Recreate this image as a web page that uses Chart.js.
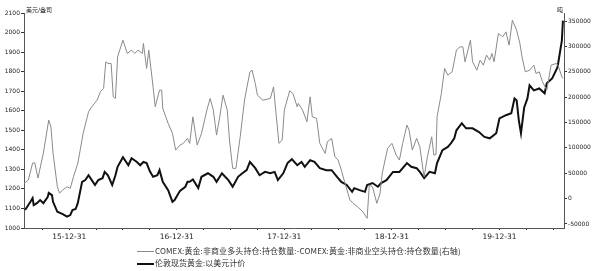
<!DOCTYPE html>
<html>
<head>
<meta charset="utf-8">
<script src="https://cdn.jsdelivr.net/npm/chart.js@4/dist/chart.umd.min.js"></script>
<style>
  html, body { margin: 0; padding: 0; background: #fff; }
  #wrap { position: relative; width: 600px; height: 271px; }
  canvas { position: absolute; left: 0; top: 0; }
  .unit { position: absolute; font-family: "DejaVu Sans", "Noto Sans CJK SC", sans-serif; font-size: 6px; color: #222; }
  .legend { position: absolute; left: 137px; font-family: "Noto Sans CJK SC", sans-serif; font-size: 8px; color: #333; white-space: nowrap; }
  .legend .swatch { display: inline-block; width: 17px; vertical-align: middle; margin-right: 1px; }
</style>
</head>
<body>
<div id="wrap">
  <canvas id="chart" width="600" height="271"></canvas>
  <div class="unit" style="left:26px; top:5px;">美元/盎司</div>
  <div class="unit" style="left:557px; top:5px;">吨</div>
  <div class="legend" style="top:245px; letter-spacing:0.1px;"><span class="swatch" style="border-top:1px solid #8a8a8a;"></span>COMEX:黄金:非商业多头持仓:持仓数量:-COMEX:黄金:非商业空头持仓:持仓数量(右轴)</div>
  <div class="legend" style="top:257px;"><span class="swatch" style="border-top:2px solid #111;"></span>伦敦现货黄金:以美元计价</div>
</div>
<script>
// Data (x in decimal years)
const goldDates = [
  2015.59, 2015.64, 2015.66, 2015.67, 2015.70, 2015.73, 2015.76, 2015.80, 2015.81, 2015.84,
  2015.85, 2015.89, 2015.94, 2015.98, 2016.01, 2016.03, 2016.06, 2016.08, 2016.12, 2016.15,
  2016.18, 2016.21, 2016.24, 2016.27, 2016.31, 2016.33, 2016.36, 2016.40, 2016.43, 2016.45,
  2016.50, 2016.55, 2016.58, 2016.63, 2016.66, 2016.69, 2016.72, 2016.75, 2016.78, 2016.82,
  2016.84, 2016.87, 2016.92, 2016.96, 2016.98, 2017.03, 2017.08, 2017.10, 2017.12, 2017.15,
  2017.20, 2017.23, 2017.29, 2017.34, 2017.37, 2017.42, 2017.45, 2017.48, 2017.52, 2017.57,
  2017.61, 2017.65, 2017.68, 2017.73, 2017.77, 2017.82, 2017.87, 2017.91, 2017.94, 2017.99,
  2018.03, 2018.07, 2018.12, 2018.16, 2018.19, 2018.24, 2018.28, 2018.33, 2018.39, 2018.44,
  2018.49, 2018.53, 2018.58, 2018.63, 2018.65, 2018.70, 2018.75, 2018.77, 2018.82, 2018.87,
  2018.90, 2018.95, 2019.01, 2019.07, 2019.14, 2019.18, 2019.23, 2019.26, 2019.30, 2019.35,
  2019.40, 2019.42, 2019.47, 2019.52, 2019.55, 2019.58, 2019.60, 2019.65, 2019.69, 2019.75,
  2019.81, 2019.86, 2019.91, 2019.97, 2020.00, 2020.06, 2020.11, 2020.14, 2020.16, 2020.18,
  2020.20, 2020.23, 2020.26, 2020.28, 2020.32, 2020.37, 2020.42, 2020.44, 2020.49, 2020.54,
  2020.58, 2020.59
];
const goldPrice = [
  1092, 1134, 1153, 1117, 1127, 1143, 1127, 1158, 1180, 1168,
  1134, 1083, 1071, 1058, 1066, 1092, 1097, 1127, 1236, 1245,
  1270, 1245, 1220, 1245, 1255, 1287, 1270, 1220, 1270, 1313,
  1362, 1321, 1357, 1338, 1321, 1338, 1332, 1290, 1262, 1270,
  1296, 1236, 1194, 1134, 1143, 1190, 1211, 1236, 1236, 1248,
  1204, 1262, 1280, 1262, 1236, 1280, 1262, 1245, 1211, 1262,
  1280, 1296, 1338, 1306, 1270, 1287, 1280, 1287, 1245, 1280,
  1332, 1352, 1321, 1338, 1313, 1347, 1338, 1306, 1296, 1296,
  1262, 1236, 1220, 1185, 1204, 1194, 1185, 1220, 1230, 1211,
  1230, 1245, 1287, 1287, 1332, 1313, 1306, 1287, 1255, 1287,
  1280, 1332, 1398, 1415, 1434, 1459, 1500, 1536, 1510, 1510,
  1491, 1466, 1459, 1485, 1561, 1577, 1587, 1663, 1653, 1551,
  1485, 1617, 1663, 1730, 1704, 1714, 1689, 1740, 1765, 1823,
  1959, 2061
];
const netDates = [
  2015.58, 2015.62, 2015.66, 2015.68, 2015.71, 2015.76, 2015.81, 2015.83, 2015.85, 2015.89,
  2015.91, 2015.94, 2015.98, 2016.01, 2016.04, 2016.08, 2016.13, 2016.18, 2016.21, 2016.26,
  2016.29, 2016.32, 2016.34, 2016.36, 2016.39, 2016.41, 2016.43, 2016.45, 2016.50, 2016.54,
  2016.58, 2016.61, 2016.64, 2016.68, 2016.69, 2016.72, 2016.74, 2016.78, 2016.80, 2016.84,
  2016.86, 2016.87, 2016.92, 2016.96, 2016.99, 2017.03, 2017.06, 2017.10, 2017.12, 2017.15,
  2017.19, 2017.23, 2017.28, 2017.31, 2017.34, 2017.37, 2017.40, 2017.43, 2017.47, 2017.49,
  2017.52, 2017.55, 2017.59, 2017.63, 2017.68, 2017.70, 2017.73, 2017.75, 2017.80, 2017.87,
  2017.90, 2017.92, 2017.95, 2017.98, 2018.00, 2018.05, 2018.08, 2018.12, 2018.13, 2018.17,
  2018.21, 2018.24, 2018.26, 2018.30, 2018.33, 2018.38, 2018.40, 2018.44, 2018.47, 2018.50,
  2018.53, 2018.56, 2018.61, 2018.64, 2018.68, 2018.73, 2018.77, 2018.79, 2018.82, 2018.86,
  2018.89, 2018.91, 2018.96, 2019.00, 2019.04, 2019.07, 2019.10, 2019.14, 2019.16, 2019.19,
  2019.23, 2019.26, 2019.29, 2019.30, 2019.33, 2019.37, 2019.39, 2019.41, 2019.42, 2019.46,
  2019.49, 2019.52, 2019.56, 2019.60, 2019.63, 2019.66, 2019.68, 2019.73, 2019.75, 2019.79,
  2019.82, 2019.85, 2019.88, 2019.91, 2019.93, 2019.95, 2019.99, 2020.03, 2020.06, 2020.09,
  2020.12, 2020.16, 2020.19, 2020.21, 2020.24, 2020.28, 2020.32, 2020.34, 2020.37, 2020.40,
  2020.44, 2020.48, 2020.53, 2020.55, 2020.58, 2020.59
];
const netLong = [
  30100, 36600, 70000, 70700, 40600, 89800, 154900, 141700, 89800, 23400,
  11000, 16900, 23400, 20300, 43100, 69500, 128700, 171200, 181100, 194200,
  210600, 217300, 269700, 266500, 266500, 200700, 197600, 279600, 312400, 286300,
  292800, 286300, 292800, 286300, 306000, 256700, 292800, 220400, 181100, 214000,
  214000, 177900, 148300, 128600, 95700, 105600, 108900, 118800, 108900, 161300,
  105600, 128600, 174500, 197600, 174500, 125300, 161300, 204100, 174500, 115400,
  59700, 59700, 121900, 194200, 250000, 253300, 227100, 204100, 194200, 197600,
  220400, 174500, 108900, 115400, 174500, 212600, 207400, 181000, 187700, 174500,
  151500, 200700, 161300, 158200, 108900, 89200, 112100, 118800, 82500, 76000,
  56300, 33300, -2800, -9300, -15900, -25800, -38800, 26800, 23400, -9300,
  10400, 49800, 99100, 108900, 85900, 76000, 108900, 145000, 135100, 95700,
  118800, 102200, 56300, 43100, 82500, 121900, 85900, 87000, 161300, 207400,
  256700, 243500, 250000, 292800, 299200, 299200, 269700, 312400, 269700, 253300,
  273000, 263200, 282900, 273000, 286200, 269700, 325600, 319000, 328800, 302600,
  351800, 332100, 305900, 279500, 250000, 253300, 263200, 246800, 250000, 230300,
  214000, 263200, 266500, 259800, 240100, 237000
];
const rightTicks = [-50000, 0, 50000, 100000, 150000, 200000, 250000, 300000, 350000];
const xTicks = [2015.75, 2016, 2016.25, 2016.5, 2016.75, 2017, 2017.25, 2017.5, 2017.75,
  2018, 2018.25, 2018.5, 2018.75, 2019, 2019.25, 2019.5, 2019.75, 2020, 2020.25, 2020.5];

function toPoints(xs, ys) {
  return xs.map((x, i) => ({ x: x, y: ys[i] }));
}

const tickFont = { family: 'DejaVu Sans', size: 6 };

new Chart(document.getElementById('chart'), {
  type: 'line',
  data: {
    datasets: [
      {
        label: 'COMEX:黄金:非商业多头持仓:持仓数量:-COMEX:黄金:非商业空头持仓:持仓数量(右轴)',
        data: toPoints(netDates, netLong),
        yAxisID: 'y1',
        borderColor: '#8a8a8a',
        borderWidth: 1,
        pointRadius: 0,
        tension: 0
      },
      {
        label: '伦敦现货黄金:以美元计价',
        data: toPoints(goldDates, goldPrice),
        yAxisID: 'y',
        borderColor: '#111',
        borderWidth: 2,
        pointRadius: 0,
        tension: 0
      }
    ]
  },
  options: {
    responsive: false,
    animation: false,
    layout: { padding: { top: 13, left: 0, right: 0, bottom: 0 } },
    plugins: { legend: { display: false }, tooltip: { enabled: false } },
    scales: {
      x: {
        type: 'linear',
        min: 2015.58,
        max: 2020.6,
        afterBuildTicks: (scale) => { scale.ticks = xTicks.map(v => ({ value: v })); },
        afterFit: (scale) => { scale.height = 43; },
        grid: { drawOnChartArea: false, tickLength: 2, color: '#333' },
        border: { display: true, color: '#555', width: 1 },
        ticks: {
          autoSkip: false,
          maxRotation: 0,
          padding: 3,
          color: '#222',
          font: { family: 'DejaVu Sans', size: 7.5 },
          callback: (v) => {
            if (Math.abs(v - Math.round(v)) > 1e-6) return '';
            const yy = String(Math.round(v) - 1).slice(2);
            return yy + '-12-31';
          }
        }
      },
      y: {
        position: 'left',
        min: 1000,
        max: 2100,
        afterFit: (scale) => { scale.width = 24; },
        grid: { drawOnChartArea: false, tickLength: 3, color: '#333' },
        border: { display: true, color: '#555', width: 1 },
        ticks: { stepSize: 100, padding: 1, color: '#222', font: tickFont, callback: (v) => String(v) }
      },
      y1: {
        position: 'right',
        min: -57900,
        max: 366000,
        afterBuildTicks: (scale) => { scale.ticks = rightTicks.map(v => ({ value: v })); },
        afterFit: (scale) => { scale.width = 36; },
        grid: { drawOnChartArea: false, tickLength: 3, color: '#333' },
        border: { display: true, color: '#555', width: 1 },
        ticks: { padding: 1, color: '#222', font: tickFont, callback: (v) => String(v) }
      }
    }
  }
});
</script>
</body>
</html>
